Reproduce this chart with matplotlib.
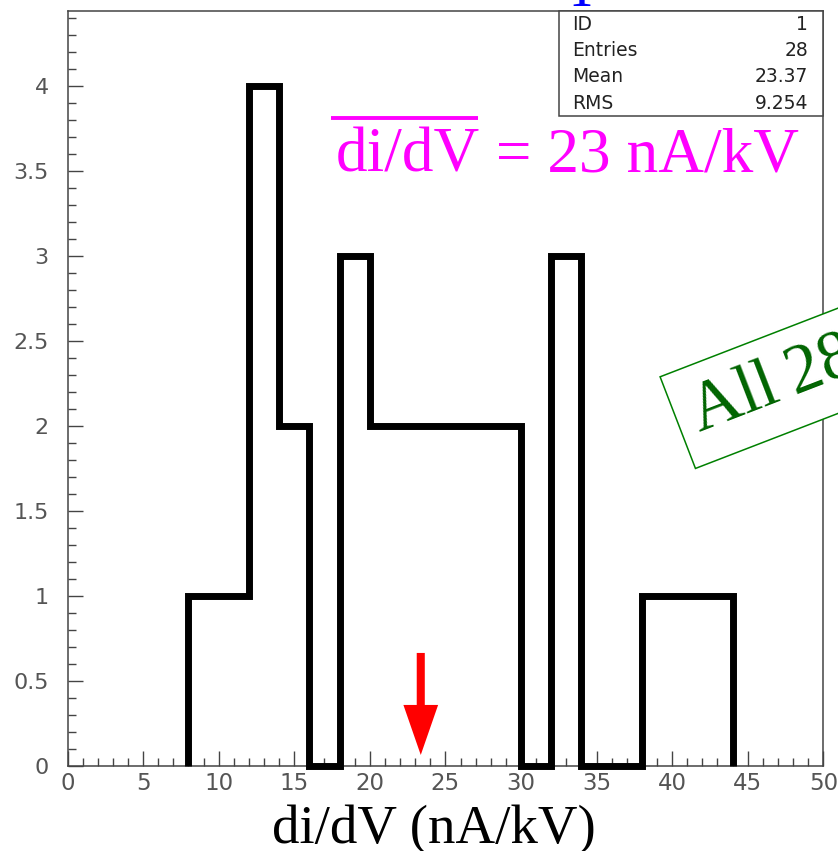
import numpy as np
import matplotlib
matplotlib.use("Agg")
import matplotlib.pyplot as plt
from matplotlib.ticker import MultipleLocator
from matplotlib.lines import Line2D
from matplotlib.transforms import IdentityTransform

# Histogram of di/dV (bin width 2 nA/kV)
bin_edges = [8, 10, 12, 14, 16, 18, 20, 22, 24, 26, 28, 30, 32, 34, 36, 38, 40, 42, 44]
bin_counts = [1, 1, 4, 2, 0, 3, 2, 2, 2, 2, 2, 0, 3, 0, 0, 1, 1, 1]

# Statistics box content
stat_names = ["ID", "Entries", "Mean", "RMS"]
stat_values = ["1", "28", "23.37", "9.254"]
mean_value = 23.37

x_ticks = [0, 5, 10, 15, 20, 25, 30, 35, 40, 45, 50]
y_ticks = [0, 0.5, 1, 1.5, 2, 2.5, 3, 3.5, 4]

W, H = 838, 851
fig = plt.figure(figsize=(W / 100, H / 100), dpi=100)
fig.patch.set_facecolor("white")

# axes frame in pixel terms: left 67.5, right 823.3, top 11, bottom 766
L, R, T, B = 67.5, 823.3, 11, 766
ax = fig.add_axes([L / W, 1 - B / H, (R - L) / W, (B - T) / H])
ax.set_xlim(0, 50)
ax.set_ylim(0, 4.441)

frame_col = "#444444"
for sp in ax.spines.values():
    sp.set_color(frame_col)
    sp.set_linewidth(1.1)

ax.set_xticks(x_ticks)
ax.set_xticklabels([f"{v:g}" for v in x_ticks])
ax.set_yticks(y_ticks)
ax.set_yticklabels([f"{v:g}" for v in y_ticks])
ax.xaxis.set_minor_locator(MultipleLocator(1))
ax.yaxis.set_minor_locator(MultipleLocator(0.1))
ax.tick_params(which="both", direction="in", top=False, right=False,
               color=frame_col, width=1.0, labelcolor="#555555")
ax.tick_params(which="major", length=10.8)
ax.tick_params(which="minor", length=5.8)
ax.tick_params(axis="x", which="major", pad=4.5, labelsize=16.5)
ax.tick_params(axis="y", which="major", pad=13.5, labelsize=16)
for lab in ax.get_xticklabels() + ax.get_yticklabels():
    lab.set_fontfamily("DejaVu Sans")

# histogram outline as a thick step polyline
edges = np.asarray(bin_edges, dtype=float)
counts = np.asarray(bin_counts, dtype=float)
xs = np.repeat(edges, 2)
ys = np.concatenate([[0.0], np.repeat(counts, 2), [0.0]])
ax.plot(xs, ys, color="black", lw=5.0, solid_joinstyle="miter",
        solid_capstyle="butt", zorder=3, clip_on=False)

# red arrow marking the mean
ax.annotate("", xy=(mean_value, 0.065), xytext=(mean_value, 0.665),
            arrowprops=dict(arrowstyle="simple,head_length=36,head_width=25,tail_width=5.8",
                            mutation_scale=1, fc="red", ec="none",
                            shrinkA=0, shrinkB=0), zorder=4)

# statistics box
box_x0 = (559 - L) / (R - L)
box_y0 = (B - 116) / (B - T)
ax.add_patch(plt.Rectangle((box_x0, box_y0), 1 - box_x0, 1 - box_y0,
                           transform=ax.transAxes, fc="white", ec=frame_col,
                           lw=1.1, zorder=5, clip_on=False))
row_y = [24, 50, 76.5, 103.5]
for name, val, yp in zip(stat_names, stat_values, row_y):
    ya = (B - yp) / (B - T)
    ax.text((572 - L) / (R - L), ya, name, transform=ax.transAxes,
            ha="left", va="center", fontsize=13.5, color="#222222",
            family="DejaVu Sans", zorder=6)
    ax.text((808 - L) / (R - L), ya, val, transform=ax.transAxes,
            ha="right", va="center", fontsize=13.5, color="#222222",
            family="DejaVu Sans", zorder=6)

serif = ["Liberation Serif", "DejaVu Serif"]

# mean annotation with overline
t1 = fig.text(336 / W, 1 - 172 / H, "di/dV", color="#ff00ff", fontsize=45.5,
              family=serif, ha="left", va="baseline")
fig.canvas.draw()
bb = t1.get_window_extent()
t2 = fig.text(bb.x1 / W, 1 - 172 / H, " = 23 nA/kV", color="#ff00ff", fontsize=45.5,
              family=serif, ha="left", va="baseline")
ov_y = H - 118
fig.add_artist(Line2D([bb.x0 - 5, bb.x1 - 2], [ov_y, ov_y], transform=IdentityTransform(),
                      color="#ff00ff", lw=2.8, solid_capstyle="butt"))

# partially visible title
fig.text(582 / W, 1 - 6 / H, "T", color="#0000ff", fontsize=40, family=serif,
         ha="center", va="baseline")

# rotated green label
fig.text(700 / W, 1 - 432 / H, "All\u200928 chips", color="#006400", fontsize=50,
         family=serif, rotation=21.1, rotation_mode="anchor", ha="left", va="baseline",
         bbox=dict(boxstyle="square,pad=0.25", fc="white", ec="#008000", lw=1.1),
         zorder=10)

# x axis title
fig.text(434 / W, 1 - 843 / H, "di/dV (nA/kV)", color="black", fontsize=39.5,
         family=serif, ha="center", va="baseline")

fig.savefig("out.png", dpi=100)
